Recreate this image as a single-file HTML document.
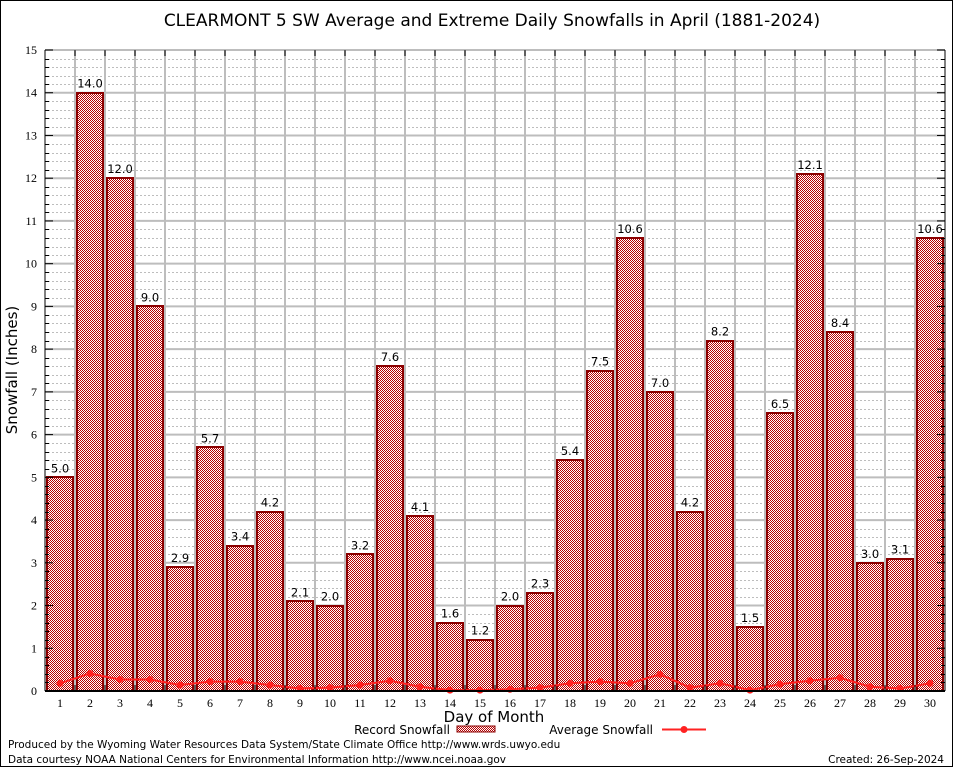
<!DOCTYPE html>
<html><head><meta charset="utf-8"><style>
html,body{margin:0;padding:0;background:#fff;}
svg{display:block;font-family:"DejaVu Sans","Liberation Sans",sans-serif;}
</style></head><body>
<svg width="954" height="768" viewBox="0 0 954 768">
<defs>
<pattern id="hatch" x="0" y="0" width="2" height="2" patternUnits="userSpaceOnUse">
<rect width="2" height="2" fill="#fff" shape-rendering="crispEdges"/><rect width="1" height="1" fill="#b80000" shape-rendering="crispEdges"/><rect x="1" y="1" width="1" height="1" fill="#b80000" shape-rendering="crispEdges"/>
</pattern>
<pattern id="dots" width="4" height="1" patternUnits="userSpaceOnUse"><rect width="2" height="1" fill="#bdbdbd"/></pattern>
</defs>
<rect x="0.5" y="0.5" width="952" height="766" fill="#fff" stroke="#000"/>
<text x="492" y="26" font-size="17" text-anchor="middle">CLEARMONT 5 SW Average and Extreme Daily Snowfalls in April (1881-2024)</text>
<g id="grid"></g>
<g id="bars"></g>
<g id="avg"></g>
<g id="axes"></g>
<text x="17" y="370" font-size="15" text-anchor="middle" transform="rotate(-90 17 370)">Snowfall (Inches)</text>
<text x="494" y="722" font-size="15" text-anchor="middle">Day of Month</text>
<g>
<text x="450" y="734" font-size="12" text-anchor="end">Record Snowfall</text>
<rect x="457" y="726" width="38" height="6" fill="url(#hatch)" stroke="#8b0000"/>
<text x="653" y="734" font-size="12" text-anchor="end">Average Snowfall</text>
<line x1="662" y1="729.5" x2="706" y2="729.5" stroke="#f22" stroke-width="2"/>
<circle cx="684" cy="729.5" r="3.5" fill="#f22"/>
</g>
<text x="8" y="748" font-size="10.5">Produced by the Wyoming Water Resources Data System/State Climate Office http://www.wrds.uwyo.edu</text>
<text x="8" y="763" font-size="10.5">Data courtesy NOAA National Centers for Environmental Information http://www.ncei.noaa.gov</text>
<text x="944" y="763" font-size="10.5" text-anchor="end">Created: 26-Sep-2024</text>
</svg>
<script>
const days=[1,2,3,4,5,6,7,8,9,10,11,12,13,14,15,16,17,18,19,20,21,22,23,24,25,26,27,28,29,30];
const recordValues=[5.0,14.0,12.0,9.0,2.9,5.7,3.4,4.2,2.1,2.0,3.2,7.6,4.1,1.6,1.2,2.0,2.3,5.4,7.5,10.6,7.0,4.2,8.2,1.5,6.5,12.1,8.4,3.0,3.1,10.6];
const averageValues=[0.18,0.41,0.27,0.27,0.14,0.22,0.22,0.14,0.06,0.08,0.14,0.24,0.10,0.02,0.02,0.04,0.08,0.18,0.22,0.18,0.39,0.08,0.18,0.02,0.16,0.24,0.31,0.10,0.06,0.18];
const yTicks=[0,1,2,3,4,5,6,7,8,9,10,11,12,13,14,15];
const NS='http://www.w3.org/2000/svg';
const L=45,R=945,T=50,B=691,YMAX=15;
const x=d=>L+(R-L)/days.length*(d-0.5);
const y=v=>B-(B-T)*v/YMAX;
function mk(tag,attrs,parent){const e=document.createElementNS(NS,tag);for(const k in attrs)e.setAttribute(k,attrs[k]);parent.appendChild(e);return e;}
const grid=document.getElementById('grid'),bars=document.getElementById('bars'),avg=document.getElementById('avg'),axes=document.getElementById('axes');
for(let v=0.2;v<YMAX;v+=0.2){if(Math.abs(v-Math.round(v))<0.01)continue;const l=mk('rect',{x:L,y:Math.round(y(v)),width:R-L,height:1,fill:'url(#dots)'},grid);

}
yTicks.forEach(v=>{const l=mk('line',{x1:L,x2:R,y1:y(v),y2:y(v),stroke:'#bdbdbd','stroke-width':2},grid);

});
for(let i=1;i<days.length;i++){const gx=L+(R-L)/days.length*i;const l=mk('line',{x1:gx,x2:gx,y1:T,y2:B,stroke:'#bdbdbd','stroke-width':2},grid);


const t1=mk('line',{x1:gx,x2:gx,y1:T,y2:T+6,stroke:'#000'},axes);


const t2=mk('line',{x1:gx,x2:gx,y1:B,y2:B-6,stroke:'#000'},axes);

}
const bw=26;
days.forEach((d,i)=>{const v=recordValues[i];
const r=mk('rect',{x:Math.round(x(d)-bw/2),y:Math.round(y(v)),width:bw,height:B-Math.round(y(v)),fill:'url(#hatch)',stroke:'#8b0000','stroke-width':2},bars);


const t=mk('text',{x:x(d),y:y(v)-5,'font-size':11.5,'text-anchor':'middle'},bars);t.textContent=v.toFixed(1);


const xl=mk('text',{x:x(d),y:707,'font-size':12,'text-anchor':'middle','font-family':'Liberation Serif, serif'},axes);xl.textContent=d;

});
const pl=mk('polyline',{points:days.map((d,i)=>x(d)+','+y(averageValues[i])).join(' '),fill:'none',stroke:'#f22','stroke-width':2},avg);


days.forEach((d,i)=>{const c=mk('circle',{cx:x(d),cy:y(averageValues[i]),r:3.5,fill:'#f22'},avg);

});
yTicks.forEach(v=>{const t=mk('text',{x:37,y:y(v)+4,'font-size':12,'text-anchor':'end','font-family':'Liberation Serif, serif'},axes);t.textContent=v;


const tk=mk('line',{x1:L,x2:L+8,y1:y(v),y2:y(v),stroke:'#000'},axes);


const tr=mk('line',{x1:R,x2:R-8,y1:y(v),y2:y(v),stroke:'#000'},axes);

});
for(let v=0.2;v<YMAX;v+=0.2){if(Math.abs(v-Math.round(v))<0.01)continue;
const m=mk('line',{x1:L,x2:L+4,y1:Math.round(y(v))+0.5,y2:Math.round(y(v))+0.5,stroke:'#000'},axes);


const m2=mk('line',{x1:R,x2:R-4,y1:Math.round(y(v))+0.5,y2:Math.round(y(v))+0.5,stroke:'#000'},axes);

}
const bl=mk('line',{x1:L,x2:R,y1:B,y2:B,stroke:'#000','stroke-width':2},axes);


const ll=mk('line',{x1:L,x2:L,y1:T,y2:B,stroke:'#000'},axes);


const rl=mk('line',{x1:R,x2:R,y1:T,y2:B,stroke:'#000'},axes);


</script>
</body></html>
